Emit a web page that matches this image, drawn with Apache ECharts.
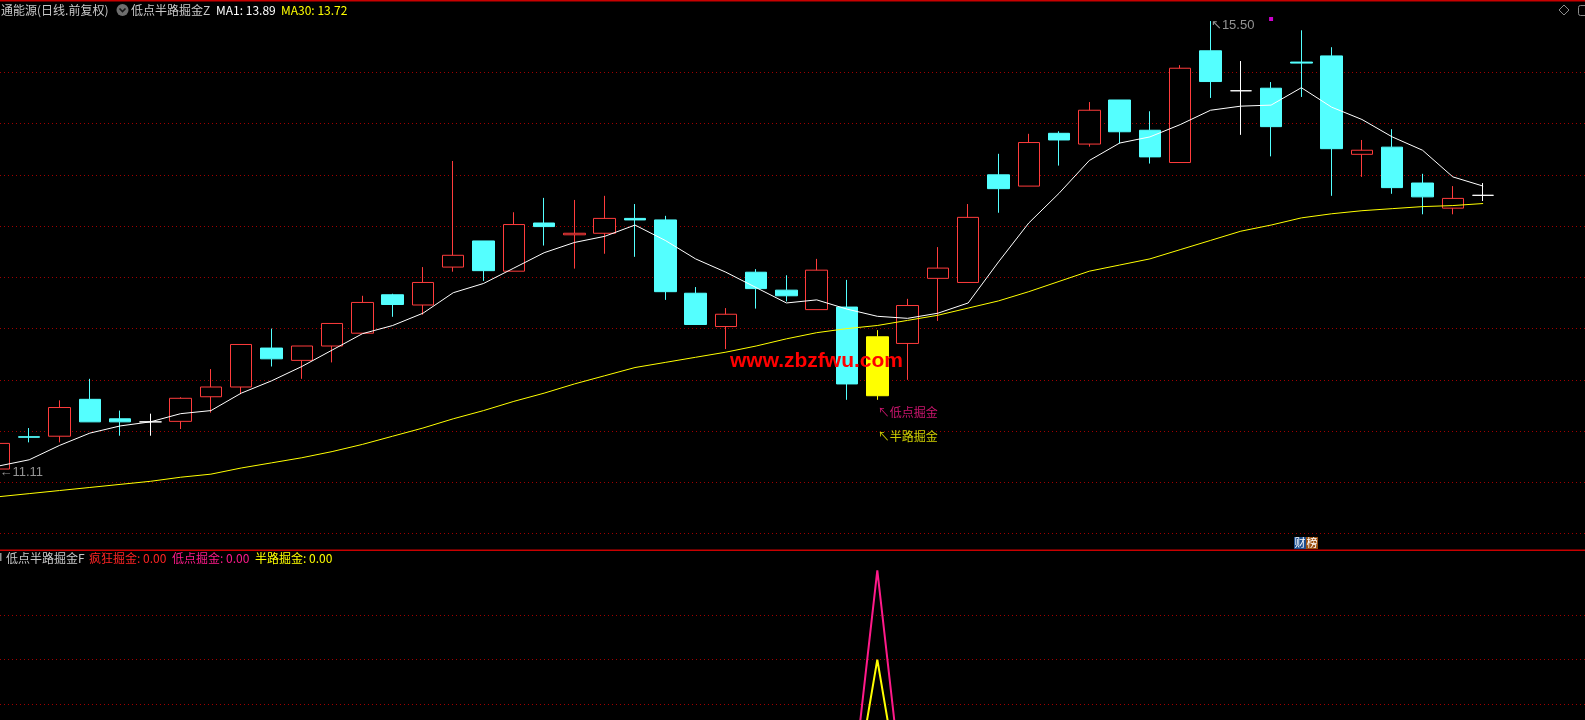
<!DOCTYPE html>
<html><head><meta charset="utf-8">
<script src="https://cdn.jsdelivr.net/npm/echarts@6/dist/echarts.min.js"></script>
<style>html,body{margin:0;padding:0;background:#000;}#c{width:1585px;height:720px;}</style>
</head><body><div id="c"></div>
<script>
// ---------------- data ----------------
const days = ['d01','d02','d03','d04','d05','d06','d07','d08','d09','d10',
  'd11','d12','d13','d14','d15','d16','d17','d18','d19','d20',
  'd21','d22','d23','d24','d25','d26','d27','d28','d29','d30',
  'd31','d32','d33','d34','d35','d36','d37','d38','d39','d40',
  'd41','d42','d43','d44','d45','d46','d47','d48','d49','d50'];
const opens  = [11.13,11.445,11.45,11.81,11.62,11.59,11.595,11.835,11.93,12.31,
  12.19,12.33,12.455,12.83,12.73,13.10,13.355,13.06,13.53,13.415,
  13.43,13.575,13.56,12.845,12.52,13.05,12.875,12.685,12.71,12.42,
  12.355,12.99,12.95,14.00,13.89,14.405,14.30,14.73,14.435,14.12,
  15.21,14.82,14.845,15.10,15.16,14.20,14.27,13.92,13.675,13.80];
const closes = [11.38,11.44,11.73,11.59,11.59,11.59,11.82,11.93,12.345,12.205,
  12.33,12.55,12.755,12.735,12.95,13.215,13.065,13.515,13.495,13.43,
  13.575,13.56,12.86,12.54,12.64,12.89,12.82,13.07,11.96,11.845,
  12.725,13.09,13.585,13.865,14.315,14.34,14.63,14.42,14.175,15.04,
  14.91,14.82,14.47,15.09,14.255,14.24,13.875,13.785,13.77,13.80];
const lows   = [11.11,11.39,11.39,11.59,11.455,11.455,11.52,11.68,11.86,12.13,
  12.01,12.17,12.455,12.615,12.635,13.055,12.965,13.06,13.31,13.085,
  13.23,13.20,12.78,12.54,12.30,12.695,12.765,12.685,11.805,11.805,
  12.00,12.575,12.95,13.63,13.89,14.09,14.275,14.305,14.11,14.12,
  14.75,14.39,14.18,14.76,13.795,13.98,13.815,13.615,13.615,13.745];
const highs  = [11.38,11.53,11.80,12.01,11.70,11.67,11.83,12.105,12.345,12.50,
  12.33,12.55,12.82,12.84,13.10,14.135,13.355,13.635,13.775,13.755,
  13.795,13.715,13.60,12.905,12.70,13.08,13.02,13.18,12.975,12.485,
  12.79,13.295,13.715,14.205,14.40,14.425,14.71,14.73,14.62,15.07,
  15.50,15.11,14.905,15.41,15.245,14.34,14.445,14.01,13.89,13.92];
const ma1  = [11.16,11.22,11.36,11.48,11.55,11.59,11.67,11.70,11.87,11.99,
  12.13,12.29,12.45,12.53,12.65,12.85,12.94,13.09,13.24,13.34,
  13.40,13.51,13.36,13.18,13.05,12.90,12.75,12.78,12.69,12.62,
  12.60,12.65,12.75,13.15,13.53,13.82,14.14,14.31,14.37,14.49,
  14.63,14.67,14.68,14.85,14.66,14.54,14.37,14.24,13.98,13.89];
const ma30 = [10.86,10.89,10.92,10.95,10.98,11.01,11.05,11.08,11.14,11.19,
  11.24,11.30,11.37,11.45,11.53,11.62,11.70,11.79,11.87,11.96,
  12.04,12.12,12.17,12.22,12.27,12.33,12.40,12.46,12.50,12.53,
  12.58,12.63,12.70,12.77,12.86,12.96,13.06,13.12,13.18,13.27,
  13.36,13.45,13.51,13.58,13.62,13.65,13.67,13.69,13.70,13.72];
// 疯狂掘金 / 低点掘金 / 半路掘金 indicator values
const crazyGold = [0,0,0,0,0,0,0,0,0,0, 0,0,0,0,0,0,0,0,0,0, 0,0,0,0,0,0,0,0,0,0,
  0,0,0,0,0,0,0,0,0,0, 0,0,0,0,0,0,0,0,0,0];
const lowGold   = [0,0,0,0,0,0,0,0,0,0, 0,0,0,0,0,0,0,0,0,0, 0,0,0,0,0,0,0,0,0,6,
  0,0,0,0,0,0,0,0,0,0, 0,0,0,0,0,0,0,0,0,0];
const halfGold  = [0,0,0,0,0,0,0,0,0,0, 0,0,0,0,0,0,0,0,0,0, 0,0,0,0,0,0,0,0,0,4,
  0,0,0,0,0,0,0,0,0,0, 0,0,0,0,0,0,0,0,0,0];
const gridLevels = [10.5,11.0,11.5,12.0,12.5,13.0,13.5,14.0,14.5,15.0];
const subGridLevels = [3,4,5];
const magentaMarks = [[42,15.52]];

// ---------------- styling ----------------
const UP = '#ff3c3c', DOWN = '#54ffff', SIG = '#ffff00', DOJI = '#ffffff';
const GRIDC = '#a00000';
const PINK = '#ff1a8a', RED2 = '#ff2424', YEL = '#ffff00', GRAY = '#c8c8c8';
const CJK = '"Noto Sans CJK SC","Noto Sans",sans-serif';
const NUMF = '"Liberation Sans","DejaVu Sans","Noto Sans CJK SC",sans-serif';

const signalIdx = lowGold.findIndex(v => v > 0);
let minIdx = 0, maxIdx = 0;
lows.forEach((v,i)=>{ if (v < lows[minIdx]) minIdx = i; });
highs.forEach((v,i)=>{ if (v > highs[maxIdx]) maxIdx = i; });

const candleData = opens.map((o,i) => {
  const item = {value:[i, o, closes[i], lows[i], highs[i]]};
  if (i === signalIdx) item.itemStyle = {color:SIG,color0:SIG,borderColor:SIG,borderColor0:SIG};
  else if (o === closes[i]) item.itemStyle = {color:DOJI,color0:DOJI,borderColor:DOJI,borderColor0:DOJI};
  return item;
});
const idxPairs = arr => arr.map((v,i)=>[i, v]);

// x scale: one trading day = 30.29 px, first day centred at x = -1.1
const STEP = 30.29, X0 = -1.1, W = 1585;
const XMIN = -X0 / STEP, XMAX = (W - X0) / STEP;

const chart = echarts.init(document.getElementById('c'), null, {renderer:'canvas'});

function labelPoint(x, y, text, color, font, size, dy) {
  return {
    type:'scatter', xAxisIndex:0, yAxisIndex:0, z:6, silent:true, clip:false,
    symbol:'rect', symbolSize:1, itemStyle:{color:'rgba(0,0,0,0)'},
    data:[[x, y]],
    label:{show:true, position:'right', distance:0, offset:[0, dy],
      formatter:text, color:color, fontSize:size, fontFamily:font}
  };
}
function gridSeries(xi, yi, levels) {
  return {type:'line', xAxisIndex:xi, yAxisIndex:yi, data:[], z:0, silent:true,
    markLine:{silent:true, z:0, symbol:['none','none'], label:{show:false},
      lineStyle:{color:GRIDC, type:[1,3], width:1},
      emphasis:{disabled:true},
      data:levels.map(v=>({yAxis:v}))}};
}

const last = ma1.length - 1;
const option = {
  backgroundColor:'#000',
  animation:false,
  grid:[
    {left:0, top:2, width:W, height:548},
    {left:0, top:551, width:W, height:169}
  ],
  xAxis:[
    {type:'value', gridIndex:0, min:XMIN, max:XMAX, show:false, splitLine:{show:false}},
    {type:'value', gridIndex:1, min:XMIN, max:XMAX, show:false, splitLine:{show:false}}
  ],
  yAxis:[
    {type:'value', gridIndex:0, min:10.340, max:15.686, show:false, splitLine:{show:false}},
    {type:'value', gridIndex:1, min:2.646, max:6.435, show:false, splitLine:{show:false}}
  ],
  series:[
    gridSeries(0, 0, gridLevels),
    {type:'candlestick', xAxisIndex:0, yAxisIndex:0, z:2, barWidth:22, clip:false,
      encode:{x:0, y:[1,2,3,4]},
      data:candleData,
      itemStyle:{color:'#000000', color0:DOWN, borderColor:UP, borderColor0:DOWN, borderWidth:1}},
    {type:'line', xAxisIndex:0, yAxisIndex:0, z:3, data:idxPairs(ma1), symbol:'none', clip:false,
      lineStyle:{color:'#ffffff', width:1}},
    {type:'line', xAxisIndex:0, yAxisIndex:0, z:3, data:idxPairs(ma30), symbol:'none', clip:false,
      lineStyle:{color:YEL, width:1}},
    labelPoint(minIdx, lows[minIdx], '←' + lows[minIdx].toFixed(2), '#b8b8b8', NUMF, 13, 1),
    labelPoint(maxIdx, highs[maxIdx], '↖' + highs[maxIdx].toFixed(2), '#b8b8b8', NUMF, 13, 4),
    labelPoint(signalIdx, lows[signalIdx], '↖低点掘金', PINK, CJK, 12, 13),
    labelPoint(signalIdx, lows[signalIdx], '↖半路掘金', YEL, CJK, 12, 36.5),
    {type:'scatter', xAxisIndex:0, yAxisIndex:0, z:6, symbol:'rect', symbolSize:4,
      itemStyle:{color:'#ff00ff'}, data:magentaMarks},
    // lower panel
    gridSeries(1, 1, subGridLevels),
    {type:'line', xAxisIndex:1, yAxisIndex:1, z:3, data:idxPairs(crazyGold), symbol:'none',
      lineStyle:{color:RED2, width:2}},
    {type:'line', xAxisIndex:1, yAxisIndex:1, z:3, data:idxPairs(lowGold), symbol:'none',
      lineStyle:{color:PINK, width:2}},
    {type:'line', xAxisIndex:1, yAxisIndex:1, z:4, data:idxPairs(halfGold), symbol:'none',
      lineStyle:{color:YEL, width:2}}
  ],
  graphic:[
    {type:'rect', shape:{x:0,y:0,width:1585,height:1.5}, style:{fill:'#c80000'}, z:10},
    {type:'rect', shape:{x:0,y:549.5,width:1585,height:1.5}, style:{fill:'#c80000'}, z:10},
    {type:'text', x:1, y:10, style:{text:'通能源(日线.前复权)', fill:GRAY, font:'12px '+CJK, textVerticalAlign:'middle'}, z:10},
    {type:'circle', shape:{cx:122.5, cy:10, r:6}, style:{fill:'#6e6e6e'}, z:10},
    {type:'polyline', shape:{points:[[119.5,8.5],[122.5,11.5],[125.5,8.5]]}, style:{stroke:'#151515', lineWidth:1.6, fill:null}, z:11},
    {type:'text', x:131, y:10, style:{text:'低点半路掘金Z', fill:GRAY, font:'12px '+CJK, textVerticalAlign:'middle'}, z:10},
    {type:'text', x:216, y:10, style:{text:'MA1: ' + ma1[last].toFixed(2), fill:'#ffffff', font:'12px '+CJK, textVerticalAlign:'middle'}, z:10},
    {type:'text', x:281, y:10, style:{text:'MA30: ' + ma30[last].toFixed(2), fill:YEL, font:'12px '+CJK, textVerticalAlign:'middle'}, z:10},
    {type:'polygon', shape:{points:[[1564,5],[1569,10],[1564,15],[1559,10]]}, style:{stroke:'#8c8c8c', fill:null, lineWidth:1}, z:10},
    {type:'rect', shape:{x:1578.5,y:5.5,width:10,height:10,r:2}, style:{stroke:'#8c8c8c', fill:null, lineWidth:1}, z:10},
    {type:'text', x:816.5, y:361, style:{text:'www.zbzfwu.com', fill:'#ff0000', font:'bold 21px "Liberation Sans",sans-serif', textAlign:'center', textVerticalAlign:'middle'}, z:9},
    {type:'rect', shape:{x:1294,y:537,width:12,height:12}, style:{fill:'#1d4e8f'}, z:10},
    {type:'text', x:1300, y:543, style:{text:'财', fill:'#ffffff', font:'11px '+CJK, textAlign:'center', textVerticalAlign:'middle'}, z:11},
    {type:'rect', shape:{x:1306,y:537,width:12,height:12}, style:{fill:'#9b5212'}, z:10},
    {type:'text', x:1312, y:543, style:{text:'榜', fill:'#ffffff', font:'11px '+CJK, textAlign:'center', textVerticalAlign:'middle'}, z:11},
    {type:'rect', shape:{x:0,y:553,width:1.5,height:8}, style:{fill:'#909090'}, z:10},
    {type:'text', x:6, y:558, style:{text:'低点半路掘金F', fill:GRAY, font:'12px '+CJK, textVerticalAlign:'middle'}, z:10},
    {type:'text', x:89, y:558, style:{text:'疯狂掘金: ' + crazyGold[last].toFixed(2), fill:RED2, font:'12px '+CJK, textVerticalAlign:'middle'}, z:10},
    {type:'text', x:172, y:558, style:{text:'低点掘金: ' + lowGold[last].toFixed(2), fill:PINK, font:'12px '+CJK, textVerticalAlign:'middle'}, z:10},
    {type:'text', x:255, y:558, style:{text:'半路掘金: ' + halfGold[last].toFixed(2), fill:YEL, font:'12px '+CJK, textVerticalAlign:'middle'}, z:10}
  ]
};
chart.setOption(option);
</script>
</body></html>
